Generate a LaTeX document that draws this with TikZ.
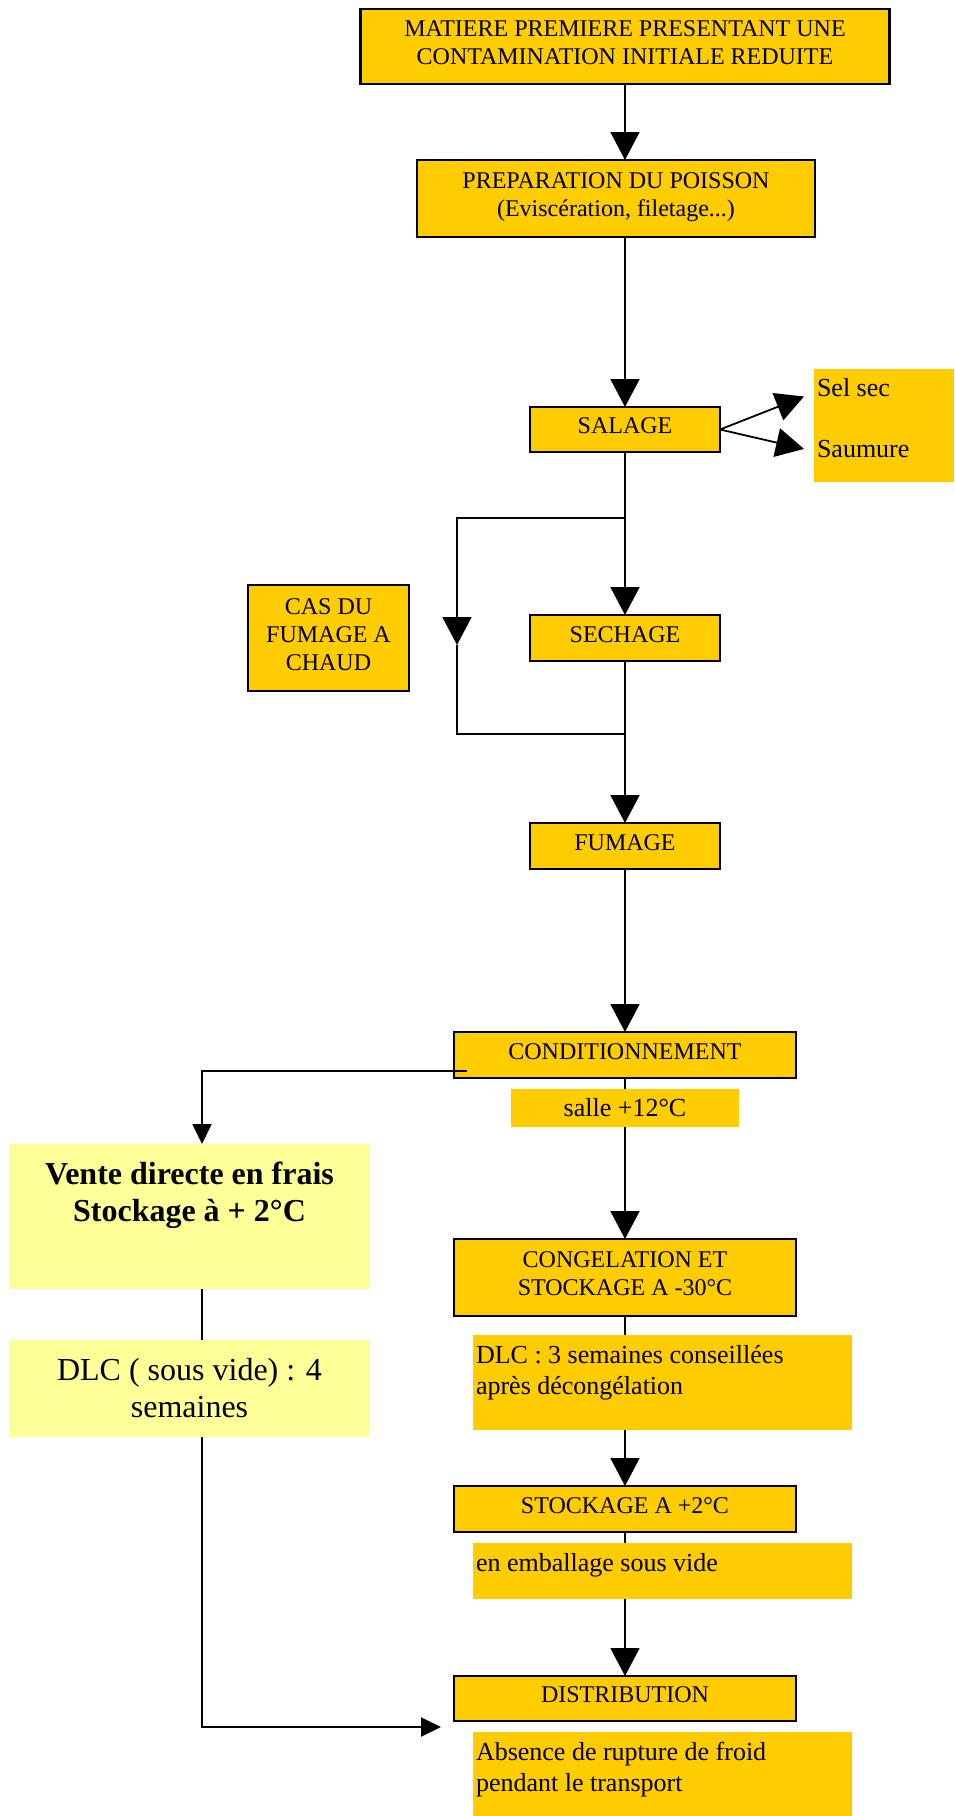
\documentclass[tikz,border=0pt]{standalone}
\usepackage{fontspec}
\setmainfont{Liberation Serif}
\usetikzlibrary{arrows.meta,positioning}
\definecolor{boxorange}{HTML}{FFCC00}
\definecolor{paleyellow}{HTML}{FFFF99}

\begin{document}
\begin{tikzpicture}[x=0.5pt,y=-0.5pt,line width=0.9pt,
    >={Triangle[length=14pt,width=14.5pt]},
    every node/.style={outer sep=0pt},
    stepbox/.style={draw,line width=1.2pt,fill=boxorange,align=center,inner sep=2pt,
      text depth=3.5pt,font=\fontsize{12}{14}\selectfont},
    notebox/.style={fill=boxorange,inner sep=0pt},
    notetext/.style={align=left,inner sep=0pt,font=\fontsize{13}{15.5}\selectfont},
    freshbox/.style={fill=paleyellow,inner sep=0pt},
    freshtext/.style={align=center,inner sep=0pt,font=\fontsize{16}{18.5}\selectfont},
    smallhead/.style={-{Triangle[length=10pt,width=9.5pt]}}]

  \useasboundingbox (0,0) rectangle (954,1816);

  % main column
  \node[stepbox,minimum width=264.5pt,minimum height=37.5pt] (mat) at (625,46.5)
    {MATIERE PREMIERE PRESENTANT UNE\\CONTAMINATION INITIALE REDUITE};
  \node[stepbox,minimum width=199pt,minimum height=38.5pt] (prep) [below=38pt of mat,xshift=-4.5pt]
    {PREPARATION DU POISSON\\(Eviscération, filetage...)};
  \node[stepbox,minimum width=95pt,minimum height=22.5pt] (sal) [below=85pt of prep,xshift=4.5pt] {SALAGE};
  \node[stepbox,minimum width=95pt,minimum height=23pt] (sech) [below=81.5pt of sal] {SECHAGE};
  \node[stepbox,minimum width=95pt,minimum height=23pt] (fum) [below=81pt of sech] {FUMAGE};
  \node[stepbox,minimum width=171pt,minimum height=23pt] (cond) [below=81.5pt of fum] {CONDITIONNEMENT};
  \node[notebox,minimum width=114pt,minimum height=19pt,font=\fontsize{13}{15.5}\selectfont] (salle)
    [below=5.5pt of cond] {salle +12°C};
  \node[stepbox,minimum width=171pt,minimum height=38.5pt] (cong) [below=56pt of salle]
    {CONGELATION ET\\STOCKAGE A -30°C};
  \node[notebox,minimum width=189.5pt,minimum height=47.5pt] (dlc3) [below=9.5pt of cong,xshift=18.75pt] {};
  \node[stepbox,minimum width=171pt,minimum height=23pt] (stock) [below=28pt of dlc3,xshift=-18.75pt] {STOCKAGE A +2°C};
  \node[notebox,minimum width=189.5pt,minimum height=28pt] (emb) [below=5.5pt of stock,xshift=18.75pt] {};
  \node[stepbox,minimum width=171pt,minimum height=22.5pt] (dist) [below=38.5pt of emb,xshift=-18.75pt] {DISTRIBUTION};
  \node[notebox,minimum width=189.5pt,minimum height=42pt] (abs) [below=5.5pt of dist,xshift=18.75pt] {};

  \node[notetext] (dlc3t) [below right=5pt and 1.5pt of dlc3.north west]
    {DLC : 3 semaines conseillées\\après décongélation};
  \node[notetext] (embt) [below right=5pt and 1.5pt of emb.north west] {en emballage sous vide};
  \node[notetext] (abst) [below right=5pt and 1.5pt of abs.north west]
    {Absence de rupture de froid\\pendant le transport};

  % side boxes
  \node[notebox,minimum width=70pt,minimum height=56.5pt] (selbox) [right=47pt of sal,yshift=2pt] {};
  \node[notetext] (selsec) [below right=4.6pt and 1.5pt of selbox.north west] {Sel sec};
  \node[notetext] (saumure) [below right=35.6pt and 1.5pt of selbox.north west] {Saumure};
  \node[stepbox,minimum width=80.5pt,minimum height=53pt] (cas) [left=60.5pt of sech] {CAS DU\\FUMAGE A\\CHAUD};

  \node[freshbox,minimum width=180.5pt,minimum height=72.5pt] (vente) [below left=33pt and 42pt of cond] {};
  \node[freshtext,font=\fontsize{16}{18.5}\selectfont\bfseries] (ventet) [below=9pt of vente.north]
    {Vente directe en frais\\Stockage à + 2°C};
  \node[freshbox,freshtext,minimum width=180.5pt,minimum height=48.5pt] (dlcsv) [below=25.5pt of vente]
    {DLC ( sous vide) : 4\\semaines};

  \coordinate (brtop) at (457,518);
  \coordinate (brmid) at (457,645);
  \coordinate (brbot) at (457,734);
  \coordinate (condl) at (467,1071);
  \coordinate (ventl) at (202,1071);
  \coordinate (distin) at (441,1727);

  % connectors
  \draw[->] (mat) -- (mat.south |- prep.north);
  \draw[->] (sal.north |- prep.south) -- (sal);
  \draw[->] (sal) -- (sech);
  \draw[->] (sal.east) -- ([xshift=-6.5pt]selsec.south west);
  \draw[->] (sal.east) -- ([xshift=-6.5pt]saumure.west);
  \draw[->] (sal.south |- brtop) -- (brtop) -- (brmid);
  \draw (brmid) -- (brbot) -- (sech.south |- brbot);
  \draw[->] (sech) -- (fum);
  \draw[->] (fum) -- (cond);
  \draw (cond) -- (salle);
  \draw[->] (salle) -- (cong);
  \draw (cong.south) -- (cong.south |- dlc3.north);
  \draw[->] (stock.north |- dlc3.south) -- (stock);
  \draw (stock.south) -- (stock.south |- emb.north);
  \draw[->] (dist.north |- emb.south) -- (dist);
  \draw[smallhead] (condl) -- (ventl) -- (ventl |- vente.north);
  \draw (ventl |- vente.south) -- (ventl |- dlcsv.north);
  \draw[smallhead] (ventl |- dlcsv.south) |- (distin);
\end{tikzpicture}
\end{document}
